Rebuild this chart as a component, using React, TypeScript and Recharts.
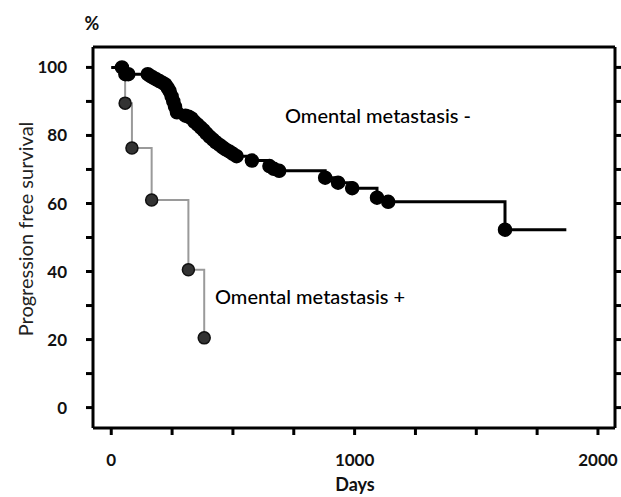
import React from 'react';
import { LineChart, Line, XAxis, YAxis } from 'recharts';

// Omental metastasis - : event times (days) and survival (%)
const negDays = [0, 44, 58, 70, 150, 160, 172, 185, 198, 210, 222, 232, 240, 248, 255, 262, 270, 305, 318, 330, 342, 355, 368, 380, 392, 405, 418, 430, 445, 458, 470, 485, 500, 515, 578, 650, 668, 690, 879, 932, 990, 1092, 1138, 1618];
const negSurvival = [100, 100, 98, 98, 98, 97.5, 97, 96.5, 96, 95.5, 95, 94, 93, 91.5, 90, 88.5, 86.8, 85.8, 85.5, 85, 84, 83.2, 82.3, 81.5, 80.5, 79.6, 78.8, 78, 77.2, 76.5, 75.9, 75.3, 74.6, 73.9, 72.6, 71, 70.2, 69.6, 67.6, 66.1, 64.5, 61.7, 60.5, 52.3];
const negFollowUpEnd = 1870;

// Omental metastasis +
const posDays = [0, 57, 85, 166, 317, 382];
const posSurvival = [100, 89.5, 76.3, 61, 40.5, 20.5];

const xTicks = [0, 250, 500, 750, 1000, 1250, 1500, 1750, 2000];
const xLabelled = [0, 1000, 2000];
const yTicks = [0, 10, 20, 30, 40, 50, 60, 70, 80, 90, 100];
const yLabelled = [0, 20, 40, 60, 80, 100];

const FONT = 'Lato, "Open Sans", sans-serif';

const negData = [
  ...negDays.map((d, i) => ({ day: d, pct: negSurvival[i], mark: i > 0 })),
  { day: negFollowUpEnd, pct: negSurvival[negSurvival.length - 1], mark: false },
];
const posData = posDays.map((d, i) => ({ day: d, pct: posSurvival[i], mark: i > 0 }));

const makeDot = (fill: string, stroke: string, r: number) => (props: any) => {
  const { cx, cy, payload, index } = props;
  if (!payload || !payload.mark) return <g key={`n-${index}`} />;
  return <circle key={`d-${index}`} cx={cx} cy={cy} r={r} fill={fill} stroke={stroke} strokeWidth={1.5} />;
};

const axisStyle = { stroke: '#000', strokeWidth: 3 };
const tickFont = { fontSize: 17, fontWeight: 700, fill: '#111', fontFamily: FONT };

export default function App() {
  return (
    <div style={{ position: 'absolute', left: 0, top: 0, width: 621, height: 497, background: '#fff' }}>
      <LineChart width={621} height={497} margin={{ top: 0, right: 0, bottom: 0, left: 0 }}>
        <XAxis
          xAxisId="b"
          type="number"
          dataKey="day"
          domain={[-75, 2070]}
          ticks={xTicks}
          allowDataOverflow
          height={69}
          axisLine={axisStyle}
          tickLine={axisStyle}
          tickSize={7}
          tickMargin={19}
          tick={tickFont}
          tickFormatter={(v: number) => (xLabelled.includes(v) ? String(v) : '')}
        />
        <XAxis
          xAxisId="t"
          orientation="top"
          type="number"
          domain={[-75, 2070]}
          ticks={xTicks}
          allowDataOverflow
          height={47}
          axisLine={axisStyle}
          tickLine={axisStyle}
          tickSize={7}
          tickFormatter={() => ''}
        />
        <YAxis
          yAxisId="l"
          type="number"
          domain={[-6, 106]}
          ticks={yTicks}
          allowDataOverflow
          width={93}
          axisLine={axisStyle}
          tickLine={axisStyle}
          tickSize={7}
          tickMargin={19}
          tick={tickFont}
          tickFormatter={(v: number) => (yLabelled.includes(v) ? String(v) : '')}
        />
        <YAxis
          yAxisId="r"
          orientation="right"
          type="number"
          domain={[-6, 106]}
          ticks={yTicks}
          allowDataOverflow
          width={6}
          axisLine={axisStyle}
          tickLine={axisStyle}
          tickSize={6}
          tickFormatter={() => ''}
        />
        <Line
          xAxisId="b"
          yAxisId="l"
          data={posData}
          dataKey="pct"
          type="stepAfter"
          stroke="#9a9a9a"
          strokeWidth={2}
          dot={makeDot('#333', '#111', 6)}
          activeDot={false}
          isAnimationActive={false}
        />
        <Line
          xAxisId="b"
          yAxisId="l"
          data={negData}
          dataKey="pct"
          type="stepAfter"
          stroke="#000"
          strokeWidth={3}
          dot={makeDot('#000', '#000', 6.5)}
          activeDot={false}
          isAnimationActive={false}
        />
      </LineChart>
      <svg width={621} height={497} style={{ position: 'absolute', left: 0, top: 0, pointerEvents: 'none' }}>
        <text x={92} y={30} textAnchor="middle" fontFamily={FONT} fontSize={18} fontWeight={700} fill="#111">%</text>
        <text x={285} y={123} fontFamily={FONT} fontSize={20} fontWeight={500} fill="#000">Omental metastasis -</text>
        <text x={215} y={304} fontFamily={FONT} fontSize={20} fontWeight={500} fill="#000">Omental metastasis +</text>
        <text
          x={0}
          y={0}
          transform="translate(33,229) rotate(-90)"
          textAnchor="middle"
          fontFamily={FONT}
          fontSize={20}
          fill="#222"
        >
          Progression free survival
        </text>
        <text x={355} y={491} textAnchor="middle" fontFamily={FONT} fontSize={18} fontWeight={700} fill="#111">Days</text>
      </svg>
    </div>
  );
}
